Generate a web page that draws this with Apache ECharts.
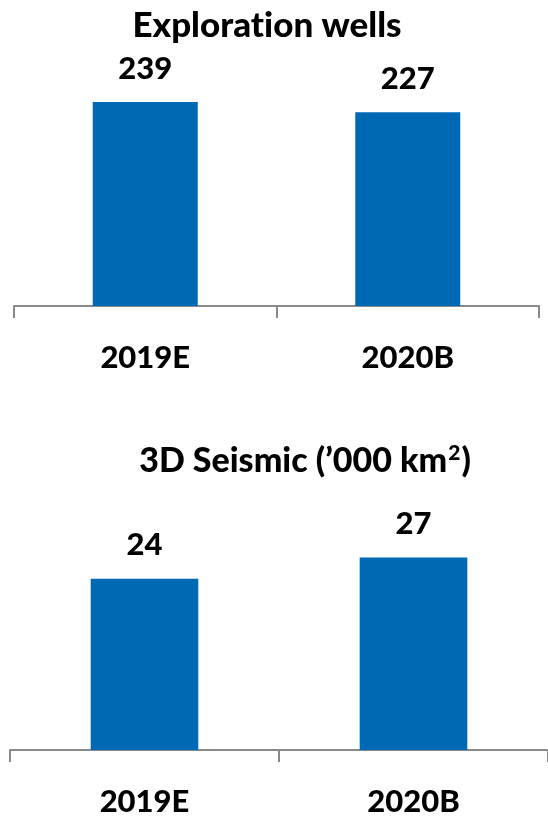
<!DOCTYPE html>
<html>
<head>
<meta charset="utf-8">
<style>
  html, body { margin: 0; padding: 0; background: #ffffff; }
  #chart { width: 548px; height: 817px; }
</style>
<script src="https://cdn.jsdelivr.net/npm/echarts@6/dist/echarts.min.js"></script>
</head>
<body>
<div id="chart"></div>
<script>
// Categories shared by both panels
const categories = ['2019E', '2020B'];

// Exploration wells (count)
const wellsValues = [239, 227];

// 3D seismic coverage ('000 km²)
const seismicValues = [24, 27];

const BLUE = '#0069B4';
const AXIS = '#8a8a8a';
const FONT = 'Lato';

const chart = echarts.init(document.getElementById('chart'), null, { renderer: 'canvas' });

function xAxisFor(gridIndex) {
  return {
    type: 'category',
    gridIndex: gridIndex,
    data: categories,
    boundaryGap: true,
    axisLine: { show: true, lineStyle: { color: AXIS, width: 2 } },
    axisTick: { show: true, length: 12, lineStyle: { color: AXIS, width: 2 } },
    axisLabel: {
      color: '#000',
      fontFamily: FONT,
      fontWeight: 900,
      fontSize: 31,
      margin: 36
    }
  };
}

function yAxisFor(gridIndex, max) {
  return {
    type: 'value',
    gridIndex: gridIndex,
    min: 0,
    max: max,
    show: false,
    splitLine: { show: false }
  };
}

function barSeries(idx, values) {
  return {
    type: 'bar',
    xAxisIndex: idx,
    yAxisIndex: idx,
    data: values,
    barWidth: '40%',
    itemStyle: { color: BLUE },
    label: {
      show: true,
      position: 'top',
      distance: 18,
      color: '#000',
      fontFamily: FONT,
      fontWeight: 900,
      fontSize: 31
    }
  };
}

const titleFont = { fontFamily: FONT, fontWeight: 900, fontSize: 35, color: '#000' };
const subTitleFont = { fontFamily: FONT, fontWeight: 900, fontSize: 34, color: '#000' };

chart.setOption({
  animation: false,
  backgroundColor: '#ffffff',
  title: [
    {
      // zero-width non-joiner keeps "t" and "i" as separate glyphs
      text: 'Explorat\u200Cion wells',
      left: 262,
      top: 3,
      textAlign: 'center',
      textStyle: titleFont
    },
    {
      text: '{t|3D Seismic (\u2019000 km}{sup|2}{t|)}',
      left: 300,
      top: 438,
      textAlign: 'center',
      textStyle: {
        rich: {
          t: subTitleFont,
          sup: { fontFamily: FONT, fontWeight: 900, fontSize: 21, color: '#000', padding: [0, 1, 15, 1] }
        }
      }
    }
  ],
  grid: [
    { left: 14, right: 9, top: 50, bottom: 511 },
    { left: 10, right: -2, top: 536, bottom: 61 }
  ],
  xAxis: [xAxisFor(0), xAxisFor(1)],
  yAxis: [yAxisFor(0, 300), yAxisFor(1, 30)],
  series: [barSeries(0, wellsValues), barSeries(1, seismicValues)]
});
</script>
</body>
</html>
